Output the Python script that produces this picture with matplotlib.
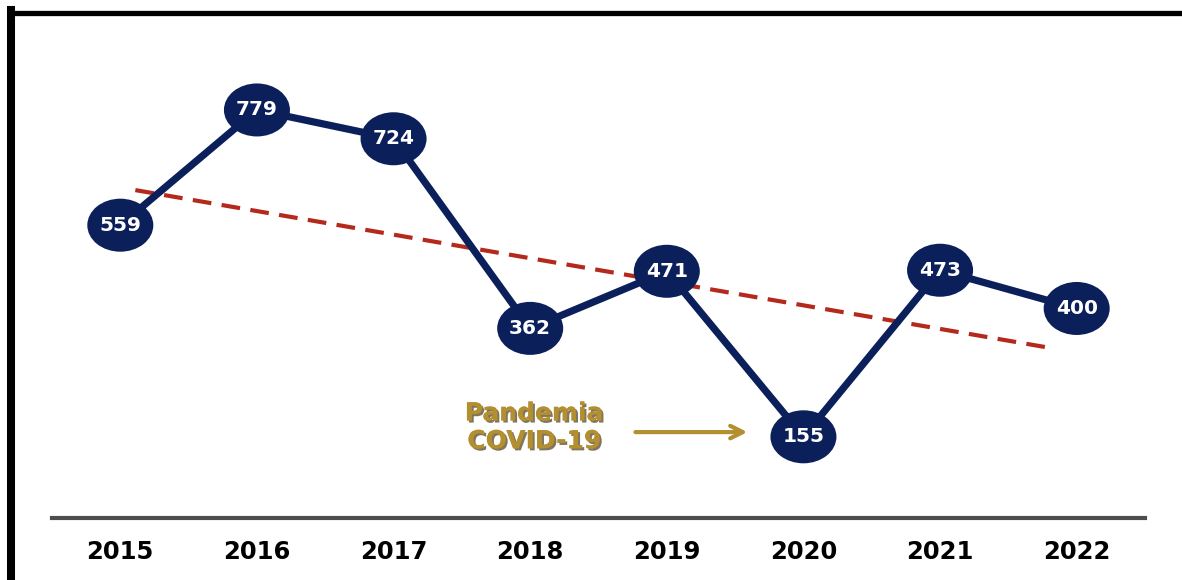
import matplotlib
matplotlib.use("Agg")
import matplotlib.pyplot as plt
from matplotlib.patches import Ellipse
from matplotlib.lines import Line2D
import matplotlib.patheffects as pe

years = ["2015", "2016", "2017", "2018", "2019", "2020", "2021", "2022"]
values = [559, 779, 724, 362, 471, 155, 473, 400]
trend_x = [0.11, 6.8]
trend_y = [626, 325]
annotation_text = "Pandemia\nCOVID-19"

navy = "#0B1F5B"
red = "#B5281C"
gold = "#B38F2F"

fig = plt.figure(figsize=(11.82, 5.8), dpi=100)
ax = fig.add_axes([52/1182, 62/580, 1093/1182, 506/580])
x = list(range(len(years)))

ax.plot(trend_x, trend_y, color=red, lw=3, ls=(0, (4.5, 2.5)), zorder=2)
ax.plot(x, values, color=navy, lw=5.2, zorder=3, solid_joinstyle="miter")

ew = 66 / 136.6
eh = 53 / 0.5237
for xi, v in zip(x, values):
    ax.add_patch(Ellipse((xi, v), ew, eh, facecolor=navy, edgecolor="none",
                         zorder=4, clip_on=False))
    ax.text(xi, v, str(v), ha="center", va="center", color="white",
            fontsize=14.5, fontweight="bold", family="DejaVu Sans", zorder=5)

ax.set_xlim(-0.5, 7.5)
ax.set_ylim(0, 966)
ax.set_xticks(x)
ax.set_xticklabels(years, fontsize=17.5, fontweight="bold", family="DejaVu Sans")
ax.tick_params(axis="x", length=0, pad=16)
ax.set_yticks([])
for s in ["top", "left", "right"]:
    ax.spines[s].set_visible(False)
ax.spines["bottom"].set_color("#4D4D4D")
ax.spines["bottom"].set_linewidth(3)

shadow = [pe.withSimplePatchShadow(offset=(1.5, -1.5), shadow_rgbFace="#4a3c18", alpha=0.7), pe.Normal()]
ax.annotate("", xy=(4.61, 164), xytext=(3.75, 164),
            arrowprops=dict(arrowstyle="->,head_length=0.9,head_width=0.45",
                            color=gold, lw=3))
ax.text(3.03, 173, annotation_text, ha="center", va="center", color=gold,
        fontsize=18, fontweight="bold", family="DejaVu Sans",
        linespacing=1.2, path_effects=shadow)

# frame
fig.add_artist(Line2D([11/1182, 11/1182], [0, 1 - 10/580], color="black", lw=5.8,
                      transform=fig.transFigure, solid_capstyle="projecting"))
fig.add_artist(Line2D([11/1182, 1], [1 - 12.5/580, 1 - 12.5/580], color="black", lw=3.8,
                      transform=fig.transFigure, solid_capstyle="projecting"))

fig.savefig("out.png", dpi=100)
